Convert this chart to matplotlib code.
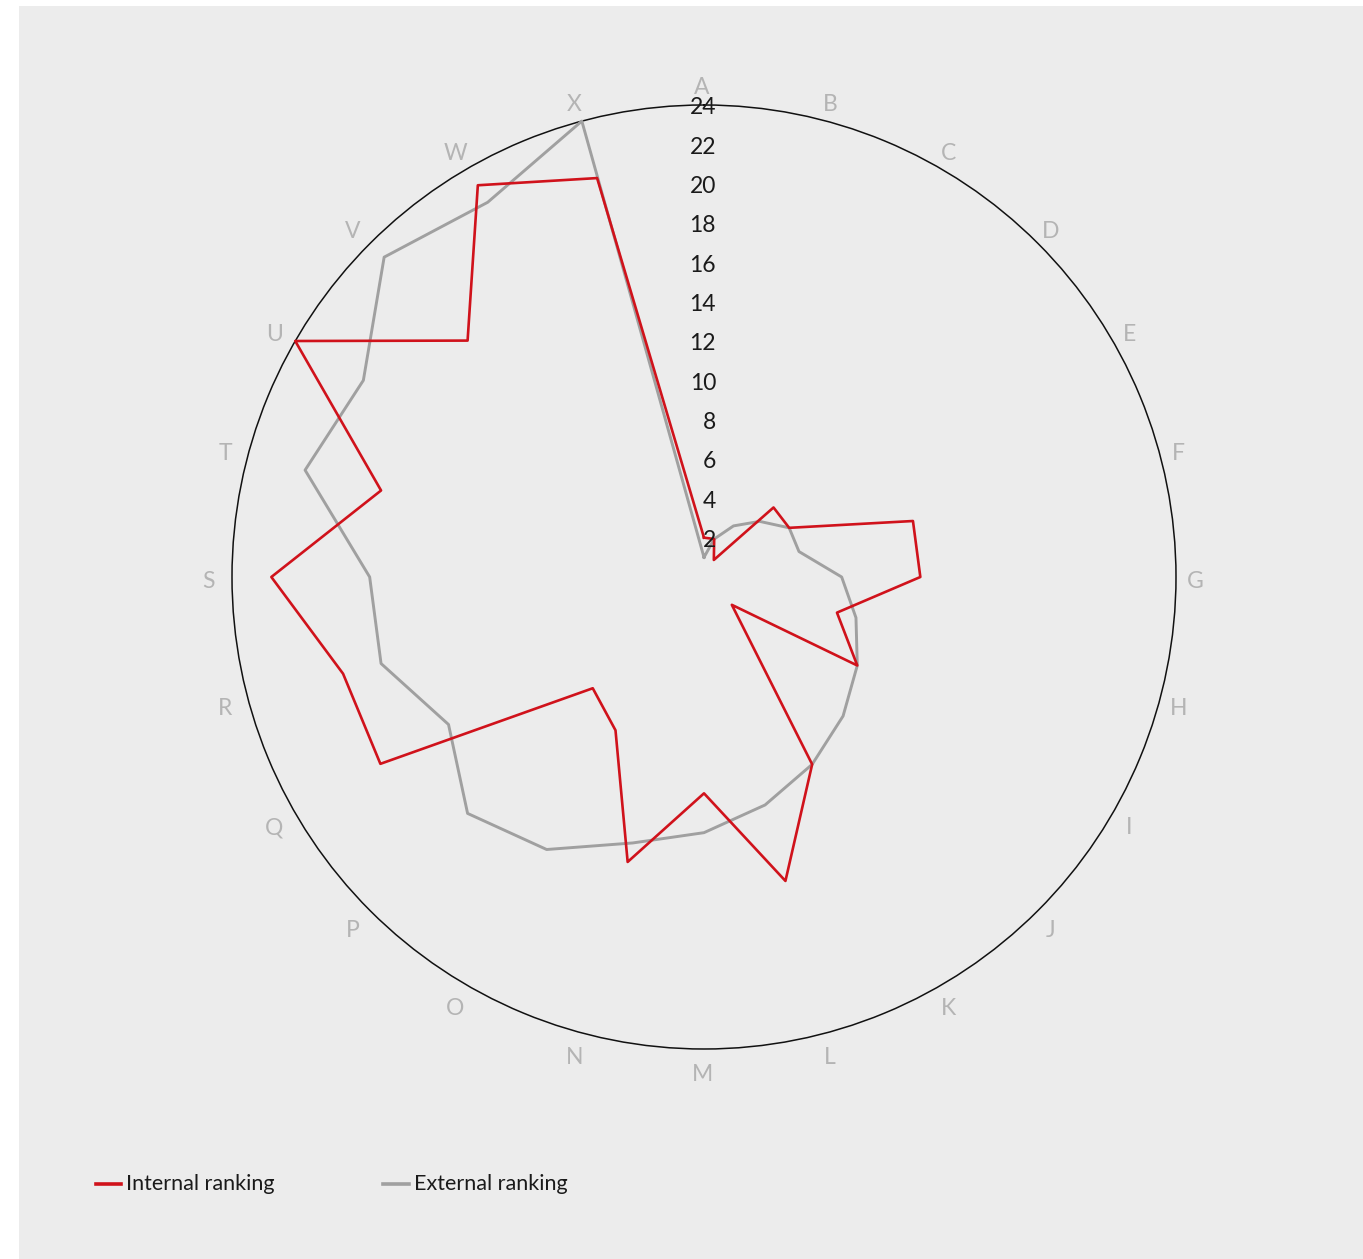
import numpy as np
import matplotlib
matplotlib.use("Agg")
import matplotlib.pyplot as plt
from matplotlib.patches import Rectangle
from matplotlib.lines import Line2D
import matplotlib.transforms as mtransforms

categories = list("ABCDEFGHIJKLMNOPQRSTUVWX")
internal = [2, 2, 1, 5, 5, 11, 11, 7, 9, 2, 11, 16, 11, 15, 9, 8, 19, 19, 22, 17, 24, 17, 23, 21]
external = [1, 2, 3, 4, 5, 5, 7, 8, 9, 10, 11, 12, 13, 14, 16, 17, 15, 17, 17, 21, 20, 23, 22, 24]
r_ticks = [2, 4, 6, 8, 10, 12, 14, 16, 18, 20, 22, 24]
series_names = ["Internal ranking", "External ranking"]

RED = "#d0121b"
GREY = "#a0a0a0"
BG = "#ececec"

plt.rcParams['font.family'] = ['Lato', 'DejaVu Sans']

W, H = 1363, 1259
fig = plt.figure(figsize=(W / 100, H / 100), dpi=100)
fig.patch.set_facecolor("white")
fig.add_artist(Rectangle((19 / W, 0), 1 - 19 / W, 1 - 6 / H, transform=fig.transFigure,
                         facecolor=BG, edgecolor="none", zorder=-10))

cx, cy, R = 704, 577, 472
ax = fig.add_axes([(cx - R) / W, (H - cy - R) / H, 2 * R / W, 2 * R / H], projection="polar")
ax.set_facecolor("none")
ax.set_theta_zero_location("N")
ax.set_theta_direction(-1)
ax.set_ylim(0, 24)
ax.grid(False)
ax.set_xticks([])
ax.set_yticks([])
ax.spines["polar"].set_color("#111111")
ax.spines["polar"].set_linewidth(1.1)

n = len(categories)
angles = np.arange(n) * 2 * np.pi / n
ang_c = np.concatenate([angles, angles[:1]])

ax.plot(ang_c, external + external[:1], color=GREY, lw=2.1, zorder=3, clip_on=False)
ax.plot(ang_c, internal + internal[:1], color=RED, lw=1.9, zorder=4, clip_on=False)

lab_off = mtransforms.offset_copy(ax.transData, fig=fig, x=-2, y=-4, units="dots")
for a, c in zip(angles, categories):
    ax.text(a, 25.1, c, transform=lab_off, ha="center", va="center", color="#b4b4b4",
            fontsize=16.5, clip_on=False)

off = mtransforms.offset_copy(ax.transData, fig=fig, x=12, y=-3, units="dots")
for t in r_ticks:
    ax.text(0, t, str(t), transform=off, ha="right", va="center", color="#1a1a1a",
            fontsize=16.5, zorder=5, clip_on=False)

# legend
ly = 1 - 1184 / H
for (x0, x1, xt), col, name in zip([(96, 121, 126), (383, 409, 414)], [RED, GREY], series_names):
    fig.add_artist(Line2D([x0 / W, x1 / W], [ly, ly], transform=fig.transFigure, color=col, lw=2.6))
    fig.text(xt / W, ly, name, ha="left", va="center", color="#1a1a1a", fontsize=15.5)

fig.savefig("out.png", dpi=100, facecolor=fig.get_facecolor())
